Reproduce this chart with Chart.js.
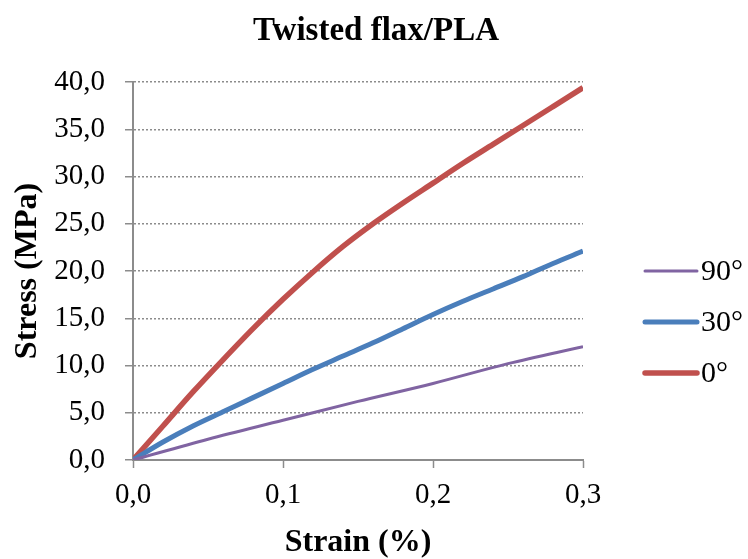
<!DOCTYPE html>
<html>
<head>
<meta charset="utf-8">
<title>Twisted flax/PLA</title>
<script src="https://cdn.jsdelivr.net/npm/chart.js@4.4.1/dist/chart.umd.min.js"></script>
<style>
  html, body { margin: 0; padding: 0; background: #fff; }
  #wrap { width: 748px; height: 559px; }
</style>
</head>
<body>
<div id="wrap"><canvas id="chart" width="748" height="559"></canvas></div>
<script>
// data (strain in %, stress in MPa)
const strain0  = [0, 0.02, 0.04, 0.06, 0.08, 0.10, 0.12, 0.14, 0.16, 0.18, 0.20, 0.22, 0.24, 0.26, 0.28, 0.30];
const stress0  = [0, 3.6, 7.2, 10.6, 13.9, 17.0, 19.9, 22.6, 25.0, 27.2, 29.3, 31.4, 33.4, 35.4, 37.4, 39.4];

const strain30 = [0, 0.02, 0.04, 0.06, 0.08, 0.10, 0.12, 0.14, 0.16, 0.18, 0.20, 0.22, 0.24, 0.26, 0.28, 0.30];
const stress30 = [0, 1.9, 3.6, 5.1, 6.6, 8.1, 9.6, 11.0, 12.4, 13.9, 15.4, 16.8, 18.1, 19.4, 20.8, 22.1];

const strain90 = [0, 0.05, 0.10, 0.15, 0.20, 0.25, 0.30];
const stress90 = [0, 2.2, 4.2, 6.2, 8.1, 10.2, 12.0];

const chartTitle   = 'Twisted flax/PLA';
const seriesLabels = ['90°', '30°', '0°'];
const seriesColors = ['#8064A2', '#4A7EBB', '#C0504D'];
const seriesWidths = [3, 5, 5.5];

const SERIF = "'Liberation Serif', 'Times New Roman', serif";
const fmt = (v) => Number(v).toFixed(1).replace('.', ',');
const toPts = (xs, ys) => xs.map((x, i) => ({ x, y: ys[i] }));

// title centred on the whole canvas + legend at the right, drawn by hand
const decorations = {
  id: 'decorations',
  afterDraw(chart) {
    const ctx = chart.ctx;
    ctx.save();
    ctx.fillStyle = '#000';
    ctx.font = 'bold 33px ' + SERIF;
    ctx.textAlign = 'center';
    ctx.textBaseline = 'alphabetic';
    ctx.fillText(chartTitle, 376, 40);

    const rows = [271, 322, 373];
    chart.data.datasets.forEach((ds, i) => {
      const y = rows[i];
      ctx.strokeStyle = ds.borderColor;
      ctx.lineWidth = ds.borderWidth;
      ctx.lineCap = 'round';
      ctx.beginPath();
      ctx.moveTo(645, y);
      ctx.lineTo(697, y);
      ctx.stroke();
      ctx.fillStyle = '#000';
      ctx.font = '30px ' + SERIF;
      ctx.textBaseline = 'middle';
      ctx.textAlign = 'left';
      ctx.fillText(ds.label, 701, y + 1);
    });
    ctx.restore();
  }
};

const datasets = [
  toPts(strain90, stress90),
  toPts(strain30, stress30),
  toPts(strain0, stress0),
].map((pts, i) => ({
  label: seriesLabels[i],
  data: pts,
  borderColor: seriesColors[i],
  backgroundColor: seriesColors[i],
  borderWidth: seriesWidths[i],
  pointRadius: 0,
  cubicInterpolationMode: 'monotone',
  fill: false,
}));

new Chart(document.getElementById('chart'), {
  type: 'line',
  data: { datasets },
  options: {
    responsive: false,
    animation: false,
    layout: { padding: { left: 0, right: 165, top: 82, bottom: 0 } },
    plugins: {
      legend: { display: false },
      tooltip: { enabled: false },
      title: { display: false },
    },
    scales: {
      x: {
        type: 'linear',
        min: 0,
        max: 0.3,
        afterFit: (s) => { s.height = 99; },
        ticks: {
          stepSize: 0.1,
          color: '#000',
          padding: 10,
          maxRotation: 0,
          font: { family: SERIF, size: 29 },
          callback: (v) => fmt(v),
        },
        grid: { drawOnChartArea: false, drawTicks: true, tickLength: 8, tickColor: '#8c8c8c', tickWidth: 1.5 },
        border: { display: true, color: '#8c8c8c', width: 2 },
        title: {
          display: true,
          text: 'Strain (%)',
          color: '#000',
          font: { family: SERIF, size: 32, weight: 'bold', lineHeight: 1 },
          padding: 0,
        },
      },
      y: {
        min: 0,
        max: 40,
        afterFit: (s) => { s.width = 133; },
        ticks: {
          stepSize: 5,
          color: '#000',
          padding: 20,
          font: { family: SERIF, size: 29 },
          callback: (v) => fmt(v),
        },
        grid: { color: '#8c8c8c', lineWidth: 1.5, tickLength: 8, tickColor: '#8c8c8c', tickWidth: 1.5, tickBorderDash: [] },
        border: { display: true, color: '#8c8c8c', width: 2, dash: [2, 2] },
        title: {
          display: true,
          text: 'Stress (MPa)',
          color: '#000',
          font: { family: SERIF, size: 32, weight: 'bold', lineHeight: 1 },
          padding: { top: 12, bottom: 0 },
        },
      },
    },
  },
  plugins: [decorations],
});
</script>
</body>
</html>
